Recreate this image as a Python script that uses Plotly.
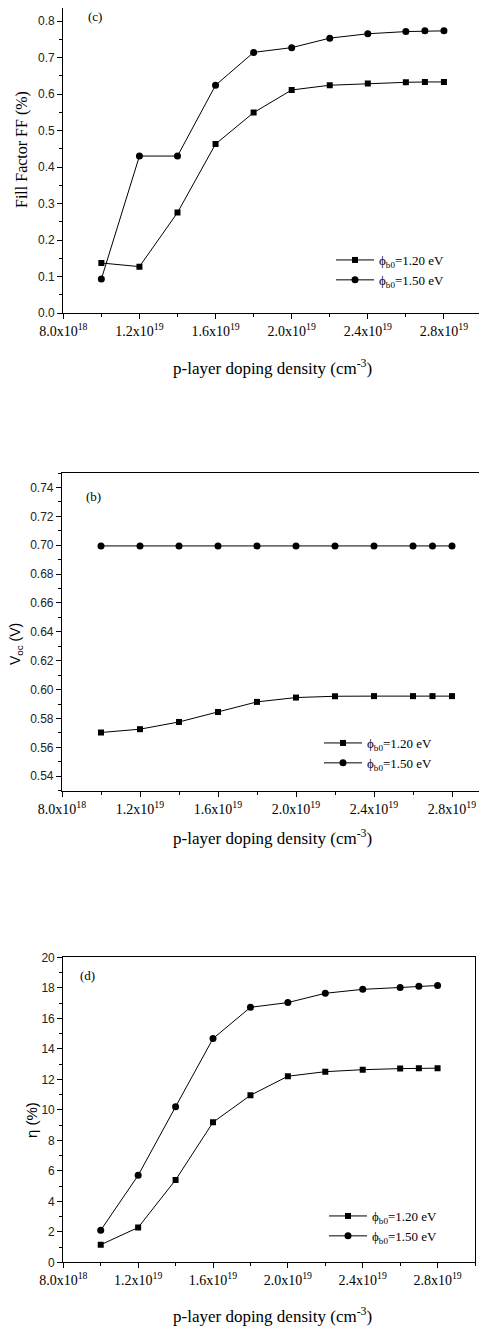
import plotly.graph_objects as go

W, H = 487, 1326
OFF = 8  # page body margin offset

doping = [1.0e19, 1.2e19, 1.4e19, 1.6e19, 1.8e19, 2.0e19, 2.2e19, 2.4e19, 2.6e19, 2.7e19, 2.8e19]

ff_120 = [0.137, 0.127, 0.275, 0.463, 0.549, 0.611, 0.624, 0.629, 0.632, 0.633, 0.633]
ff_150 = [0.093, 0.430, 0.430, 0.624, 0.714, 0.727, 0.753, 0.765, 0.771, 0.773, 0.773]

voc_120 = [0.5703, 0.5726, 0.5776, 0.5845, 0.5915, 0.5945, 0.5954, 0.5955, 0.5955, 0.5955, 0.5955]
voc_150 = [0.6995, 0.6995, 0.6995, 0.6995, 0.6995, 0.6995, 0.6995, 0.6995, 0.6995, 0.6995, 0.6995]

eta_120 = [1.15, 2.28, 5.40, 9.18, 10.95, 12.20, 12.50, 12.63, 12.70, 12.73, 12.73]
eta_150 = [2.10, 5.70, 10.20, 14.67, 16.72, 17.03, 17.64, 17.90, 18.02, 18.10, 18.15]

xtick_vals = [8.0e18, 1.2e19, 1.6e19, 2.0e19, 2.4e19, 2.8e19]
xtick_text = ["8.0x10<sup>18</sup>", "1.2x10<sup>19</sup>", "1.6x10<sup>19</sup>",
              "2.0x10<sup>19</sup>", "2.4x10<sup>19</sup>", "2.8x10<sup>19</sup>"]

label_120 = "ϕ<sub>b0</sub>=1.20 eV"
label_150 = "ϕ<sub>b0</sub>=1.50 eV"

SERIF = "Liberation Serif, Times New Roman, serif"
SANS = "Liberation Sans, Arial, sans-serif"

def px_x(p):
    return min(1.0, max(0.0, (p - OFF) / W))

def px_y(p):
    return min(1.0, max(0.0, 1 - (p - OFF) / H))

fig = go.Figure()

panels = [
    ("x", "y", "legend", ff_120, ff_150),
    ("x2", "y2", "legend2", voc_120, voc_150),
    ("x3", "y3", "legend3", eta_120, eta_150),
]
for xa, ya, lg, s1, s2 in panels:
    fig.add_trace(go.Scatter(x=doping, y=s1, xaxis=xa, yaxis=ya, legend=lg,
                             mode="lines+markers", name=label_120,
                             line=dict(color="black", width=1),
                             marker=dict(symbol="square", size=6, color="black")))
    fig.add_trace(go.Scatter(x=doping, y=s2, xaxis=xa, yaxis=ya, legend=lg,
                             mode="lines+markers", name=label_150,
                             line=dict(color="black", width=1),
                             marker=dict(symbol="circle", size=7, color="black")))

def xaxis_cfg(domain, rng, anchor, mirror=True):
    return dict(domain=domain, range=rng, anchor=anchor, automargin=False,
                tickmode="array", tickvals=xtick_vals, ticktext=xtick_text,
                ticks="outside", ticklen=5, tickwidth=1, tickcolor="black",
                showline=True, linecolor="black", linewidth=1.2, mirror=mirror,
                showgrid=False, zeroline=False,
                tickfont=dict(family=SERIF, size=14, color="black"),
                minor=dict(ticks="outside", ticklen=3, tickwidth=1, tickcolor="black",
                           tickmode="linear", tick0=8e18, dtick=2e18, showgrid=False))

def yaxis_cfg(domain, rng, anchor, dtick, mdtick, fmt, mirror=True):
    return dict(domain=domain, range=rng, anchor=anchor, automargin=False,
                tickmode="linear", tick0=0, dtick=dtick, tickformat=fmt,
                ticks="outside", ticklen=5, tickwidth=1, tickcolor="black",
                showline=True, linecolor="black", linewidth=1.2, mirror=mirror,
                showgrid=False, zeroline=False,
                tickfont=dict(family=SANS, size=12, color="#222"),
                minor=dict(ticks="outside", ticklen=3, tickwidth=1, tickcolor="black",
                           tickmode="linear", tick0=0, dtick=mdtick, showgrid=False))

# panel 1: top edge can only reach screen y=8; y=0 at 313, 0.8 at 21
ff_top = 0.8 + (21 - 8) / 365.0

fig.update_layout(
    width=W, height=H,
    margin=dict(l=0, r=0, t=0, b=0, autoexpand=False),
    paper_bgcolor="white", plot_bgcolor="white",
    showlegend=True,
    xaxis=xaxis_cfg([px_x(63.3), px_x(482)], [8e18, 3.0e19], "y"),
    yaxis=yaxis_cfg([px_y(313), 1.0], [0, ff_top], "x", 0.1, 0.05, ".1f"),
    xaxis2=xaxis_cfg([px_x(62), px_x(491)], [8e18, 3.0e19], "y2"),
    yaxis2=yaxis_cfg([px_y(790.7), px_y(473)], [0.53, 0.75], "x2", 0.02, 0.01, ".2f"),
    xaxis3=xaxis_cfg([px_x(63.3), px_x(475)], [8e18, 3.0e19], "y3"),
    yaxis3=yaxis_cfg([px_y(1262.3), px_y(957.3)], [0, 20], "x3", 2, 1, "d"),
)

leg_common = dict(font=dict(family=SERIF, size=13, color="black"),
                  bgcolor="rgba(0,0,0,0)", borderwidth=0, itemwidth=38,
                  xanchor="left", yanchor="top", tracegroupgap=0)
fig.update_layout(
    legend=dict(x=px_x(331), y=px_y(245), **leg_common),
    legend2=dict(x=px_x(319), y=px_y(728), **leg_common),
    legend3=dict(x=px_x(324), y=px_y(1201), **leg_common),
)

anns = []
for text, xp, yp in [("(c)", 95, 17), ("(b)", 93, 496), ("(d)", 87, 975)]:
    anns.append(dict(xref="paper", yref="paper", x=px_x(xp), y=px_y(yp), text=text,
                     showarrow=False, xanchor="center", yanchor="middle",
                     font=dict(family=SERIF, size=13, color="black")))

for ypix in [367, 837, 1315]:
    anns.append(dict(xref="paper", yref="paper", x=px_x(272), y=px_y(ypix),
                     text="p-layer doping density (cm<sup>-3</sup>)", showarrow=False,
                     xanchor="center", yanchor="middle",
                     font=dict(family=SERIF, size=17, color="black")))

anns.append(dict(xref="paper", yref="paper", x=px_x(22), y=px_y(150),
                 text="Fill Factor FF (%)", showarrow=False, textangle=-90,
                 xanchor="center", yanchor="middle",
                 font=dict(family=SERIF, size=16, color="black")))
anns.append(dict(xref="paper", yref="paper", x=px_x(16), y=px_y(644),
                 text="V<sub>oc</sub> (V)", showarrow=False, textangle=-90,
                 xanchor="center", yanchor="middle",
                 font=dict(family=SANS, size=14, color="black")))
anns.append(dict(xref="paper", yref="paper", x=px_x(31), y=px_y(1120),
                 text="η (%)", showarrow=False, textangle=-90,
                 xanchor="center", yanchor="middle",
                 font=dict(family=SANS, size=15, color="black")))

fig.update_layout(annotations=anns)

fig.write_html("out.html")
